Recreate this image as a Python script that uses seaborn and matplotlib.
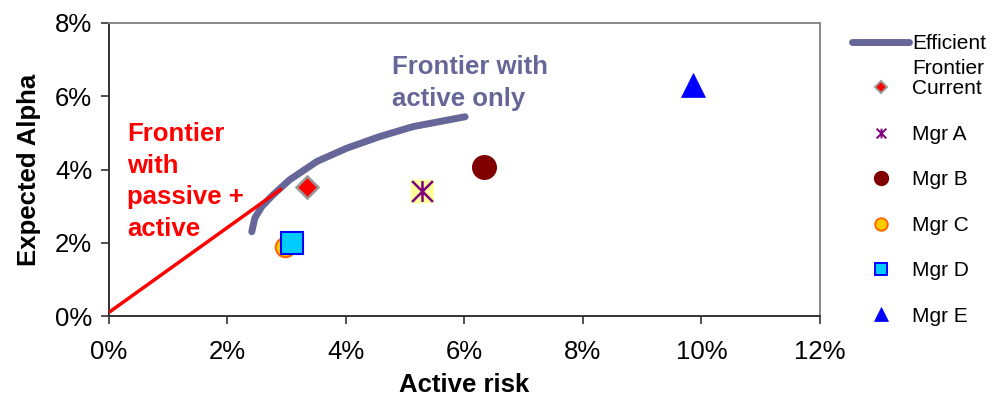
import matplotlib
matplotlib.use("Agg")
import matplotlib.pyplot as plt
from matplotlib.path import Path
from matplotlib.lines import Line2D
from matplotlib.ticker import FuncFormatter
import seaborn as sns
import pandas as pd

# Efficient frontier (active only), in percent
frontier_risk = [2.41, 2.46, 2.58, 2.77, 3.05, 3.51, 4.01, 4.57, 5.13, 6.01]
frontier_alpha = [2.30, 2.67, 2.99, 3.31, 3.72, 4.22, 4.58, 4.90, 5.17, 5.44]

# Frontier with passive + active
passive_risk = [0.0, 2.90]
passive_alpha = [0.10, 3.46]

# Portfolios
names = ["Current", "Mgr A", "Mgr B", "Mgr C", "Mgr D", "Mgr E"]
risk = [3.35, 5.29, 6.33, 2.97, 3.09, 9.85]
alpha = [3.53, 3.40, 4.08, 1.89, 1.99, 6.31]

x_ticks = [0, 2, 4, 6, 8, 10, 12]
y_ticks = [0, 2, 4, 6, 8]

sns.set_style("white")
plt.rcParams["font.family"] = ["Liberation Sans", "DejaVu Sans"]
plt.rcParams["text.color"] = "black"
plt.rcParams["axes.labelcolor"] = "black"
plt.rcParams["xtick.color"] = "black"
plt.rcParams["ytick.color"] = "black"

fig = plt.figure(figsize=(9.92, 3.97), dpi=100)
ax = fig.add_axes([109 / 992, 1 - 316 / 397, (820 - 109) / 992, (316 - 23) / 397])

frontier_col = "#666699"
front_df = pd.DataFrame({"risk": frontier_risk, "alpha": frontier_alpha})
sns.lineplot(data=front_df, x="risk", y="alpha", sort=False, ax=ax,
             color=frontier_col, lw=5, solid_capstyle="round", zorder=2)

pass_df = pd.DataFrame({"risk": passive_risk, "alpha": passive_alpha})
sns.lineplot(data=pass_df, x="risk", y="alpha", sort=False, ax=ax,
             color="#FF0000", lw=2.5, zorder=3)

# star marker: vertical bar plus an X
star = Path([(0, -1), (0, 1), (-1, -1), (1, 1), (-1, 1), (1, -1)],
            [Path.MOVETO, Path.LINETO, Path.MOVETO, Path.LINETO,
             Path.MOVETO, Path.LINETO])

styles = {
    "Current": dict(marker="D", ms=11, mfc="#FF0000", mec="#999999", mew=1.8),
    "Mgr A": dict(marker=star, ms=15, mfc="none", mec="#800080", mew=1.8),
    "Mgr B": dict(marker="o", ms=17, mfc="#800000", mec="#800000", mew=1),
    "Mgr C": dict(marker="o", ms=14, mfc="#FFCC00", mec="#FF6600", mew=1.5),
    "Mgr D": dict(marker="s", ms=15.5, mfc="#00CCFF", mec="#0000FF", mew=1.5),
    "Mgr E": dict(marker="^", ms=17, mfc="#0000FF", mec="#0000FF", mew=0.5),
}

# yellow backdrop behind the Mgr A star
ax.plot([risk[1]], [alpha[1]], marker="s", ms=16.5, mfc="#FFFF99",
        mec="#FFFF99", ls="none", zorder=4)
for n, xv, yv in zip(names, risk, alpha):
    ax.plot([xv], [yv], ls="none", zorder=5, **styles[n])

ax.set_xlim(0, 12)
ax.set_ylim(0, 8)
ax.set_xticks(x_ticks)
ax.set_yticks(y_ticks)
pct = FuncFormatter(lambda v, p: f"{v:.0f}%")
ax.xaxis.set_major_formatter(pct)
ax.yaxis.set_major_formatter(pct)
ax.tick_params(axis="both", which="major", labelsize=18.5, length=6,
               width=1.2, color="#333333", labelcolor="black",
               direction="out", bottom=True, left=True)
ax.tick_params(axis="x", pad=11)
ax.tick_params(axis="y", pad=6)
for side in ["left", "bottom"]:
    ax.spines[side].set_color("#333333")
    ax.spines[side].set_linewidth(1.4)
for side in ["top", "right"]:
    ax.spines[side].set_color("#888888")
    ax.spines[side].set_linewidth(1.4)

ax.set_xlabel("Active risk", fontsize=18.5, fontweight="bold", labelpad=7)
ax.set_ylabel("Expected Alpha", fontsize=18.5, fontweight="bold", labelpad=10)

ax.text(4.78, 7.13, "Frontier with\nactive only", color="#666699",
        fontsize=18.5, fontweight="bold", va="top", ha="left",
        linespacing=1.45)
ax.text(0.30, 5.30, "Frontier\nwith\npassive +\nactive", color="#FF0000",
        fontsize=18.5, fontweight="bold", va="top", ha="left",
        linespacing=1.41)

# legend
handles = [Line2D([], [], color=frontier_col, lw=5, solid_capstyle="round")]
labels = ["Efficient"]
leg_sizes = {"Current": 6, "Mgr A": 7, "Mgr B": 10, "Mgr C": 9,
             "Mgr D": 8.5, "Mgr E": 10}
for n in names:
    st = dict(styles[n])
    st["ms"] = leg_sizes[n]
    st["mew"] = min(st["mew"], 1.4)
    handles.append(Line2D([], [], ls="none", **st))
    labels.append(n)

leg = fig.legend(handles, labels, loc="upper left",
                 bbox_to_anchor=(852 / 992, 1 - 34 / 397), frameon=False,
                 fontsize=15, handlelength=2.75, handletextpad=0.15,
                 labelspacing=1.27, borderaxespad=0, borderpad=0)

fig.canvas.draw()
bb = leg.get_texts()[0].get_window_extent()
fig.text(bb.x0 / 992, (bb.y0 - 6) / 397, "Frontier", fontsize=15,
         va="top", ha="left")

fig.savefig("out.png", dpi=100)
